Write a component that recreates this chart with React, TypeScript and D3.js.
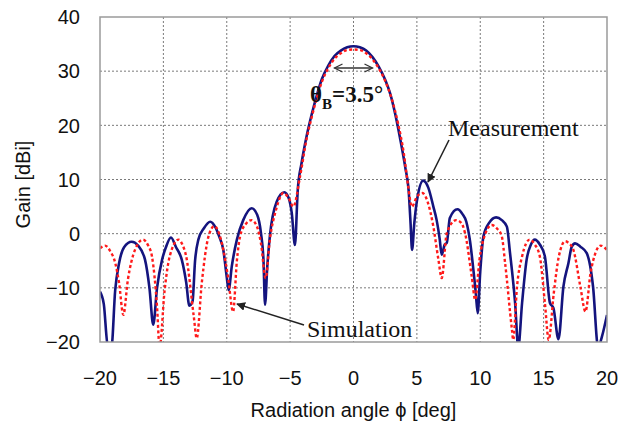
import React, { useEffect, useRef } from "react";
import * as d3 from "d3";

// measured pattern (deg, dBi)
const measAngle = [
  -20, -19.7, -19.4, -19.1, -18.8, -18.5, -18.1, -17.5, -17.0, -16.45, -16.1, -15.8, -15.5, -15.1,
  -14.8, -14.4, -14.0, -13.55, -13.2, -12.95, -12.7, -12.5, -12.24, -11.8, -11.3, -10.9, -10.6,
  -10.27, -10.0, -9.85, -9.6, -9.2, -8.7, -8.03, -7.6, -7.3, -7.1, -6.98, -6.8, -6.6, -6.06, -5.46,
  -5.1, -4.87, -4.62, -4.4, -4.1, -3.7, -3.3, -2.9, -2.5, -2.0, -1.5, -1.0, -0.5, 0, 0.5, 1.0, 1.5,
  2.0, 2.5, 2.9, 3.3, 3.7, 4.1, 4.35, 4.5, 4.62, 4.8, 5.0, 5.5, 5.9, 6.3, 6.56, 6.8, 6.96, 7.2, 7.36,
  7.6, 8.2, 8.6, 8.9, 9.2, 9.46, 9.65, 9.8, 10.0, 10.25, 10.7, 11.25, 11.7, 12.1, 12.35, 12.75, 13.0,
  13.3, 13.66, 14.0, 14.3, 14.7, 15.1, 15.5, 15.77, 16.17, 16.56, 16.96, 17.22, 17.48, 17.9, 18.4,
  18.9, 19.3, 19.6, 20,
];
const measGain = [
  -10.7, -13, -20.5, -21, -10.4, -5.5, -2.5, -1.5, -2.2, -4.8, -10, -16.8, -10, -4.8,
  -2.5, -0.7, -2.5, -4.8, -9, -13.3, -12.5, -5, -1.1, 1, 2.2, 1.2, -0.5,
  -3.0, -8, -10.4, -6, -1.1, 2.5, 4.7, 3.5, 0.1, -5, -13.1, -6, -0.5, 5.9, 7.65,
  6.5, 3.8, -2.1, 8, 13, 18, 22, 25.5, 28.5, 31, 32.8, 33.8, 34.4, 34.6, 34.4, 33.8, 32.6,
  30.8, 28.4, 25.8, 22, 17.3, 12, 8, 2, -3.0, 2, 6, 9.8, 8.5, 5, 2.5, -1, -3.9, -2, -1.7,
  2.9, 4.5, 3.6, 2.2, -1.5, -6.7, -11, -14.7, -7, -0.5, 2, 3.0, 2.5, 1.3, -3.6, -12.8, -21,
  -12.8, -4.8, -2, -1.1, -2, -4.2, -12.8, -13.7, -19.5, -9.8, -5.4, -2.4, -1.8, -2.4, -3.6,
  -9.8, -21, -19, -15,
];

// simulated pattern (deg, dBi)
const simAngle = [
  -20, -19.6, -19.2, -18.8, -18.5, -18.16, -17.8, -17.24, -16.6, -16.2, -15.9, -15.5, -15.3, -14.9,
  -14.5, -13.8, -13.5, -13.2, -12.6, -12.37, -11.97, -11.45, -10.98, -10.6, -10.27, -9.9, -9.5,
  -9.2, -8.95, -8.5, -8.03, -7.6, -7.3, -6.93, -6.6, -6.1, -5.54, -5.1, -4.75, -4.2, -3.7, -3.3,
  -2.9, -2.5, -2.0, -1.5, -1.0, -0.5, 0, 0.5, 1.0, 1.5, 2.0, 2.5, 3.0, 3.5, 3.97, 4.3, 4.6, 5.0,
  5.44, 5.9, 6.3, 6.7, 6.96, 7.36, 8.1, 8.5, 8.8, 9.33, 9.6, 9.94, 10.4, 10.9, 11.3, 11.7, 11.96,
  12.5, 12.6, 12.9, 13.3, 13.9, 14.3, 14.7, 15.1, 15.4, 15.8, 16.2, 16.7, 17.0, 17.35, 17.9, 18.3,
  18.7, 19.1, 19.5, 20,
];
const simGain = [
  -2.7, -2.2, -3.2, -5.4, -9, -15, -8.5, -3.0, -1.1, -2.2, -4.2, -13.5, -21, -10.4,
  -4.2, -1.1, -2, -4.2, -15.3, -19.3, -9.1, -0.6, 1.4, 0, -3.0, -8, -14.4,
  -5, -0.5, 1.8, 2.5, 1.2, -1.8, -8.2, -1.1, 4.5, 7.5, 6.5, 5.0, 10.8, 17.5, 21.5,
  25, 28, 30.5, 32.3, 33.3, 33.9, 34.0, 33.9, 33.3, 32.2, 30.5, 28.2, 25, 20.5, 14.8, 9, 5.0, 6.8,
  7.5, 5.5, 1.3, -4.8, -8.2, 0.1, 2.5, 2, 0.1, -7.9, -12.2, -4.8, 0, 1.6, 1, -0.5, -5.4,
  -17.7, -19.6, -9.8, -4.2, -1.1, -2, -4.2, -12.8, -19.6, -11, -4.2, -1.4, -1.8, -3.0, -9.8, -14.4,
  -7.3, -3.5, -2.2, -3.0,
];

const xTicks = [-20, -15, -10, -5, 0, 5, 10, 15, 20];
const yTicks = [-20, -10, 0, 10, 20, 30, 40];

const W = 625;
const H = 424;
const margin = { top: 17, right: 18, bottom: 82, left: 100 };

function App() {
  const ref = useRef<SVGSVGElement>(null);

  useEffect(() => {
    const svg = d3.select(ref.current);
    svg.selectAll("*").remove();

    const x = d3.scaleLinear().domain([-20, 20]).range([margin.left, W - margin.right]);
    const y = d3.scaleLinear().domain([-20, 40]).range([H - margin.bottom, margin.top]);

    const sans = "'Liberation Sans', Arial, sans-serif";
    const serif = "'Liberation Serif', 'Times New Roman', serif";
    const fmt = (d: number) => (d < 0 ? "\u2212" + Math.abs(d) : String(d));

    svg.append("rect").attr("width", W).attr("height", H).attr("fill", "#fff");

    const defs = svg.append("defs");
    defs.append("clipPath").attr("id", "plot")
      .append("rect")
      .attr("x", x(-20)).attr("y", y(40))
      .attr("width", x(20) - x(-20)).attr("height", y(-20) - y(40));

    defs.append("marker")
      .attr("id", "head").attr("viewBox", "0 0 10 10")
      .attr("refX", 9).attr("refY", 5)
      .attr("markerWidth", 9).attr("markerHeight", 9)
      .attr("markerUnits", "userSpaceOnUse")
      .attr("orient", "auto-start-reverse")
      .append("path").attr("d", "M0,0L10,5L0,10z").attr("fill", "#222");

    defs.append("marker")
      .attr("id", "vee").attr("viewBox", "0 0 10 10")
      .attr("refX", 9).attr("refY", 5)
      .attr("markerWidth", 10).attr("markerHeight", 10)
      .attr("markerUnits", "userSpaceOnUse")
      .attr("orient", "auto-start-reverse")
      .append("path").attr("d", "M1,1L9,5L1,9").attr("fill", "none")
      .attr("stroke", "#333").attr("stroke-width", 1.3);

    // grid
    const grid = svg.append("g").attr("stroke", "#7a7a7a").attr("stroke-width", 1)
      .attr("stroke-dasharray", "2,2");
    grid.selectAll("line.v").data(xTicks.slice(1, -1)).join("line")
      .attr("class", "v")
      .attr("x1", d => x(d)).attr("x2", d => x(d))
      .attr("y1", y(40)).attr("y2", y(-20));
    grid.selectAll("line.h").data(yTicks.slice(1, -1)).join("line")
      .attr("class", "h")
      .attr("x1", x(-20)).attr("x2", x(20))
      .attr("y1", d => y(d)).attr("y2", d => y(d));

    // curves
    const line = d3.line<[number, number]>().curve(d3.curveMonotoneX);
    const plot = svg.append("g").attr("clip-path", "url(#plot)");

    const measPts = measAngle.map((a, i) => [x(a), y(measGain[i])] as [number, number]);
    const simPts = simAngle.map((a, i) => [x(a), y(simGain[i])] as [number, number]);

    plot.append("path")
      .attr("d", line(measPts))
      .attr("fill", "none").attr("stroke", "#14147e").attr("stroke-width", 2.6)
      .attr("stroke-linejoin", "round");

    plot.append("path")
      .attr("d", line(simPts))
      .attr("fill", "none").attr("stroke", "#ff1a1a").attr("stroke-width", 2.4)
      .attr("stroke-dasharray", "3,2.5");

    // frame
    svg.append("rect")
      .attr("x", x(-20)).attr("y", y(40))
      .attr("width", x(20) - x(-20)).attr("height", y(-20) - y(40))
      .attr("fill", "none").attr("stroke", "#9a9a9a").attr("stroke-width", 1.5);

    // tick labels
    svg.append("g").selectAll("text").data(xTicks).join("text")
      .attr("x", d => x(d)).attr("y", 385)
      .attr("text-anchor", "middle")
      .attr("font-family", sans).attr("font-size", 20).attr("fill", "#111")
      .text(fmt);

    svg.append("g").selectAll("text").data(yTicks).join("text")
      .attr("x", 80).attr("y", d => y(d))
      .attr("dy", "0.36em")
      .attr("text-anchor", "end")
      .attr("font-family", sans).attr("font-size", 20).attr("fill", "#111")
      .text(fmt);

    // axis titles
    svg.append("text")
      .attr("x", x(0)).attr("y", 417)
      .attr("text-anchor", "middle")
      .attr("font-family", sans).attr("font-size", 20).attr("fill", "#111")
      .text("Radiation angle \u03d5 [deg]");

    svg.append("text")
      .attr("transform", `translate(30,${y(10) + 5}) rotate(-90)`)
      .attr("text-anchor", "middle")
      .attr("font-family", sans).attr("font-size", 20).attr("fill", "#111")
      .text("Gain [dBi]");

    // beamwidth annotation
    svg.append("line")
      .attr("x1", x(-1.5)).attr("x2", x(1.5))
      .attr("y1", 68).attr("y2", 68)
      .attr("stroke", "#333").attr("stroke-width", 1.3)
      .attr("marker-start", "url(#vee)").attr("marker-end", "url(#vee)");

    const tb = svg.append("text")
      .attr("x", 310).attr("y", 102)
      .attr("font-family", serif).attr("font-size", 23).attr("font-weight", "bold").attr("fill", "#111");
    tb.append("tspan").text("\u03b8");
    tb.append("tspan").attr("font-size", 15).attr("dy", 7).text("B");
    tb.append("tspan").attr("dy", -7).text("=3.5\u00b0");

    // series labels
    svg.append("text")
      .attr("x", 448).attr("y", 136)
      .attr("font-family", serif).attr("font-size", 24).attr("fill", "#111")
      .text("Measurement");
    svg.append("line")
      .attr("x1", 449).attr("y1", 140).attr("x2", 428).attr("y2", 182)
      .attr("stroke", "#222").attr("stroke-width", 1.5)
      .attr("marker-end", "url(#head)");

    svg.append("text")
      .attr("x", 307).attr("y", 337)
      .attr("font-family", serif).attr("font-size", 24).attr("fill", "#111")
      .text("Simulation");
    svg.append("line")
      .attr("x1", 304).attr("y1", 325).attr("x2", 237).attr("y2", 304)
      .attr("stroke", "#222").attr("stroke-width", 1.5)
      .attr("marker-end", "url(#head)");
  }, []);

  return (
    <svg
      ref={ref}
      width={W}
      height={H}
      style={{ position: "absolute", left: 0, top: 0 }}
    />
  );
}

export default App;
